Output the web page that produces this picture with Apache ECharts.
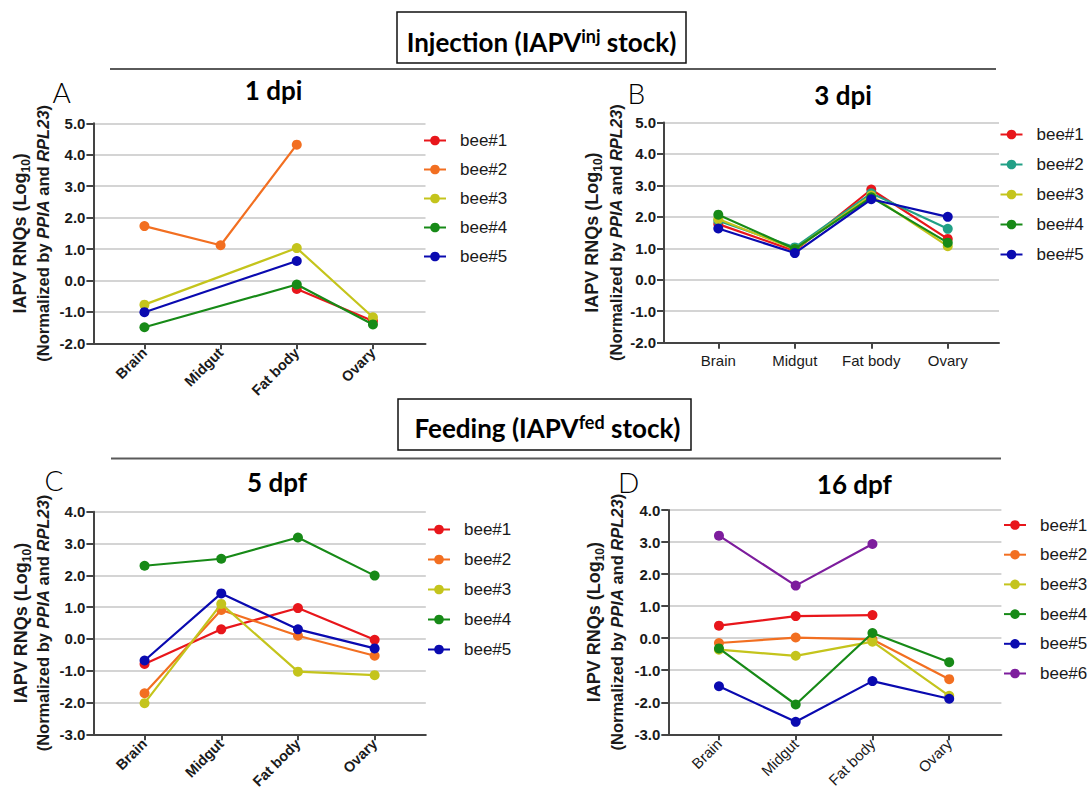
<!DOCTYPE html>
<html><head><meta charset="utf-8">
<script src="https://cdn.jsdelivr.net/npm/echarts@6/dist/echarts.min.js"></script>
<style>html,body{margin:0;padding:0;background:#fff}#c{width:1090px;height:796px}</style>
</head><body><div id="c"></div>
<script>
// ---------- data ----------
const tissues = ['Brain', 'Midgut', 'Fat body', 'Ovary'];
const beesABC = ['bee#1', 'bee#2', 'bee#3', 'bee#4', 'bee#5'];
const beesD = ['bee#1', 'bee#2', 'bee#3', 'bee#4', 'bee#5', 'bee#6'];
const panelTitles = ['1 dpi', '3 dpi', '5 dpf', '16 dpf'];
const panelLetters = ['A', 'B', 'C', 'D'];

// Panel A: 1 dpi (null = no value)
const A_bee1 = [null, null, -0.27, -1.29];
const A_bee2 = [1.73, 1.12, 4.32, null];
const A_bee3 = [-0.77, null, 1.03, -1.17];
const A_bee4 = [-1.49, null, -0.13, -1.40];
const A_bee5 = [-1.01, null, 0.62, null];
// Panel B: 3 dpi
const B_bee1 = [1.77, 0.92, 2.87, 1.30];
const B_bee2 = [1.88, 1.03, 2.75, 1.62];
const B_bee3 = [1.93, 0.97, 2.68, 1.07];
const B_bee4 = [2.07, 0.98, 2.62, 1.18];
const B_bee5 = [1.63, 0.85, 2.56, 2.00];
// Panel C: 5 dpf
const C_bee1 = [-0.79, 0.30, 0.97, -0.03];
const C_bee2 = [-1.71, 0.91, 0.10, -0.53];
const C_bee3 = [-2.02, 1.10, -1.03, -1.14];
const C_bee4 = [2.30, 2.52, 3.19, 1.99];
const C_bee5 = [-0.68, 1.43, 0.30, -0.30];
// Panel D: 16 dpf
const D_bee1 = [0.39, 0.69, 0.72, null];
const D_bee2 = [-0.15, 0.02, -0.04, -1.28];
const D_bee3 = [-0.36, -0.55, -0.11, -1.80];
const D_bee4 = [-0.32, -2.07, 0.16, -0.75];
const D_bee5 = [-1.50, -2.61, -1.34, -1.89];
const D_bee6 = [3.20, 1.64, 2.94, null];

// ---------- styles ----------
const RED = '#e8161b', ORANGE = '#f26f21', YELLOW = '#c4c41c', GREEN = '#178a17',
      BLUE = '#0a0ab0', TEAL = '#22a086', PURPLE = '#7d1d9d';
const AX = '#444', GRID = '#d4d4d4', TXT = '#1a1a1a';
const SANS = 'Liberation Sans, Arial, Helvetica, sans-serif';
const HEAD = 'Lato, sans-serif';

const panels = [
  {names: beesABC, data: [A_bee1, A_bee2, A_bee3, A_bee4, A_bee5], colors: [RED, ORANGE, YELLOW, GREEN, BLUE],
   left: 93.4, top: 123.3, right: 425.5, bottom: 343.3, xmin: -0.67, xmax: 3.69, ymin: -2, ymax: 5,
   rotate: 45, bold: true, lfs: 14.5, lmargin: 7,
   legLeft: 418, legTop: 126.5, legGap: 11,
   tX: 273.5, tY: 90, lX: 61.7, lY: 91.5, y1X: 20, y2X: 43},
  {names: beesABC, data: [B_bee1, B_bee2, B_bee3, B_bee4, B_bee5], colors: [RED, TEAL, YELLOW, GREEN, BLUE],
   left: 664, top: 122.5, right: 999, bottom: 342.7, xmin: -0.71, xmax: 3.67, ymin: -2, ymax: 5,
   rotate: 0, bold: false, lfs: 15, lmargin: 10,
   legLeft: 994.5, legTop: 120.5, legGap: 12,
   tX: 843, tY: 95, lX: 636.3, lY: 93.4, y1X: 592, y2X: 616},
  {names: beesABC, data: [C_bee1, C_bee2, C_bee3, C_bee4, C_bee5], colors: [RED, ORANGE, YELLOW, GREEN, BLUE],
   left: 93.4, top: 511.7, right: 425.8, bottom: 734.3, xmin: -0.667, xmax: 3.667, ymin: -3, ymax: 4,
   rotate: 45, bold: true, lfs: 14.5, lmargin: 7,
   legLeft: 422, legTop: 515.5, legGap: 12,
   tX: 277, tY: 482, lX: 54, lY: 480.3, y1X: 21, y2X: 43},
  {names: beesD, data: [D_bee1, D_bee2, D_bee3, D_bee4, D_bee5, D_bee6], colors: [RED, ORANGE, YELLOW, GREEN, BLUE, PURPLE],
   left: 668.3, top: 510, right: 1001.4, bottom: 734.3, xmin: -0.66, xmax: 3.68, ymin: -3, ymax: 4,
   rotate: 45, bold: false, lfs: 15, lmargin: 7,
   legLeft: 998, legTop: 511, legGap: 11.7,
   tX: 854.4, tY: 483.6, lX: 628.6, lY: 481.9, y1X: 594, y2X: 617}
];

const grids = [], xAxes = [], yAxes = [], series = [], legends = [], graphics = [];
const tickIdx = tissues.map((_, i) => i);

panels.forEach((p, k) => {
  grids.push({left: p.left, top: p.top, width: p.right - p.left, height: p.bottom - p.top,
              containLabel: false, outerBoundsMode: 'none'});
  xAxes.push({
    type: 'value', gridIndex: k, min: p.xmin, max: p.xmax,
    axisLine: {show: true, onZero: false, lineStyle: {color: AX, width: 2}},
    axisTick: {show: true, customValues: tickIdx, length: 6, lineStyle: {color: AX, width: 2}},
    axisLabel: {customValues: tickIdx, formatter: v => tissues[Math.round(v)], rotate: p.rotate,
                margin: p.lmargin, fontSize: p.lfs, fontWeight: p.bold ? 'bold' : 'normal',
                color: TXT, fontFamily: SANS},
    splitLine: {show: false}
  });
  yAxes.push({
    type: 'value', gridIndex: k, min: p.ymin, max: p.ymax, interval: 1,
    axisLine: {show: true, onZero: false, lineStyle: {color: AX, width: 2}},
    axisTick: {show: true, length: 7, lineStyle: {color: AX, width: 2}},
    axisLabel: {formatter: v => v.toFixed(1), fontSize: 15, fontWeight: 'bold', color: TXT,
                margin: 8, fontFamily: SANS},
    splitLine: {show: true, lineStyle: {color: GRID, width: 2}}
  });
  const legNames = [];
  p.names.forEach((n, i) => {
    const nm = panelLetters[k] + ':' + n;
    legNames.push(nm);
    const pts = [];
    p.data[i].forEach((v, j) => { if (v !== null) pts.push([j, v]); });
    series.push({
      type: 'line', name: nm, xAxisIndex: k, yAxisIndex: k, data: pts,
      symbol: 'circle', symbolSize: 10, showSymbol: true,
      lineStyle: {width: 2.2, color: p.colors[i]}, itemStyle: {color: p.colors[i]},
      emphasis: {disabled: true}, silent: true, animation: false, z: 2 + i
    });
  });
  legends.push({
    orient: 'vertical', left: p.legLeft, top: p.legTop, itemWidth: 22, itemHeight: 12,
    itemGap: p.legGap, data: legNames, selectedMode: false,
    formatter: n => n.split(':')[1],
    textStyle: {fontFamily: SANS, fontSize: 17, color: TXT, lineHeight: 18, padding: [0, 0, 0, 9]}
  });
  // panel title
  graphics.push({type: 'text', x: p.tX, y: p.tY, silent: true,
    style: {text: panelTitles[k], align: 'center', verticalAlign: 'middle',
            font: 'bold 26px ' + HEAD, fill: '#000'}});
  // panel letter
  graphics.push({type: 'text', x: p.lX, y: p.lY, silent: true,
    style: {text: panelLetters[k], align: 'center', verticalAlign: 'middle',
            font: '300 28px ' + HEAD, fill: '#000'}});
  // y-axis title, two rotated lines
  const cy = (p.top + p.bottom) / 2;
  graphics.push({type: 'text', x: p.y1X, y: cy, rotation: Math.PI / 2, silent: true,
    style: {text: '{m|IAPV RNQs (Log}{s|10}{m|)}', align: 'center', verticalAlign: 'middle',
      rich: {m: {fontSize: 18, fontWeight: 'bold', fontFamily: SANS, fill: TXT, lineHeight: 24},
             s: {fontSize: 12, fontWeight: 'bold', fontFamily: SANS, fill: TXT, verticalAlign: 'bottom', lineHeight: 24}}}});
  graphics.push({type: 'text', x: p.y2X, y: cy, rotation: Math.PI / 2, silent: true,
    style: {text: '{m|(Normalized by }{i|PPIA}{m| and }{i|RPL23}{m|)}', align: 'center', verticalAlign: 'middle',
      rich: {m: {fontSize: 16.5, fontWeight: 'bold', fontFamily: SANS, fill: TXT},
             i: {fontSize: 16.5, fontWeight: 'bold', fontStyle: 'italic', fontFamily: SANS, fill: TXT}}}});
});

// section headers
const headers = [
  {main1: 'Injection (IAPV', sup: 'inj', main2: ' stock)', bx: 397, by: 12, bw: 289, bh: 51, tx: 541.5, ty: 42, lx1: 110, lx2: 996, ly: 69},
  {main1: 'Feeding (IAPV', sup: 'fed', main2: ' stock)', bx: 398, by: 399, bw: 293, bh: 51, tx: 547.5, ty: 428, lx1: 111, lx2: 1001, ly: 458.6}
];
headers.forEach(h => {
  graphics.push({type: 'rect', silent: true, shape: {x: h.bx, y: h.by, width: h.bw, height: h.bh},
                 style: {fill: '#fff', stroke: '#111', lineWidth: 1.5}});
  graphics.push({type: 'line', silent: true, shape: {x1: h.lx1, y1: h.ly, x2: h.lx2, y2: h.ly},
                 style: {stroke: '#5a5a5a', lineWidth: 2}});
  graphics.push({type: 'text', x: h.tx, y: h.ty, silent: true,
    style: {text: '{m|' + h.main1 + '}{s|' + h.sup + '}{m|' + h.main2 + '}', align: 'center', verticalAlign: 'middle',
      rich: {m: {fontSize: 26, fontWeight: 'bold', fontFamily: HEAD, fill: '#000', lineHeight: 30},
             s: {fontSize: 18, fontWeight: 'bold', fontFamily: HEAD, fill: '#000', verticalAlign: 'top', lineHeight: 30}}}});
});

const chart = echarts.init(document.getElementById('c'), null, {renderer: 'svg', width: 1090, height: 796});
chart.setOption({
  animation: false,
  backgroundColor: '#fff',
  grid: grids, xAxis: xAxes, yAxis: yAxes, series: series, legend: legends,
  graphic: graphics
});
</script>
</body></html>
